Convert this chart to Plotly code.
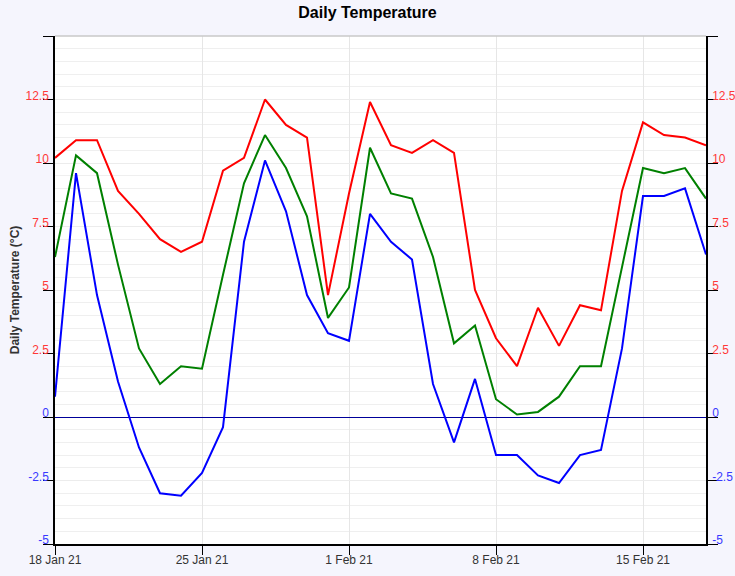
import pandas as pd
import plotly.graph_objects as go

# daily readings, 18 Jan 21 -> 18 Feb 21
dates = pd.date_range("2021-01-18", "2021-02-18", freq="D")

temp_max = [10.2, 10.9, 10.9, 8.9, 8.0, 7.0, 6.5, 6.9, 9.7, 10.2, 12.5,
            11.5, 11.0, 4.8, 8.8, 12.4, 10.7, 10.4, 10.9, 10.4, 5.0,
            3.1, 2.0, 4.3, 2.8, 4.4, 4.2, 8.9, 11.6, 11.1, 11.0, 10.7]
temp_mean = [6.3, 10.3, 9.6, 6.0, 2.7, 1.3, 2.0, 1.9, 5.6, 9.2, 11.1,
             9.8, 7.9, 3.9, 5.1, 10.6, 8.8, 8.6, 6.3, 2.9, 3.6,
             0.7, 0.1, 0.2, 0.8, 2.0, 2.0, 5.9, 9.8, 9.6, 9.8, 8.6]
temp_min = [0.8, 9.6, 4.8, 1.4, -1.2, -3.0, -3.1, -2.2, -0.4, 6.9, 10.1,
            8.1, 4.8, 3.3, 3.0, 8.0, 6.9, 6.2, 1.3, -1.0, 1.5,
            -1.5, -1.5, -2.3, -2.6, -1.5, -1.3, 2.7, 8.7, 8.7, 9.0, 6.4]

tick_vals = [-5, -2.5, 0, 2.5, 5, 7.5, 10, 12.5, 15]
tick_labels = ["-5", "-2.5", "0", "2.5", "5", "7.5", "10", "12.5", ""]


def colour_label(val, lab):
    if lab == "":
        return ""
    col = "#ff3838" if val > 0 else "#3838ff"
    return f"<span style='color:{col}'>{lab}</span>"


tick_text = [colour_label(v, l) for v, l in zip(tick_vals, tick_labels)]

fig = go.Figure()
fig.add_trace(go.Scatter(x=dates, y=temp_max, mode="lines", name="Max",
                         line=dict(color="red", width=2)))
fig.add_trace(go.Scatter(x=dates, y=temp_mean, mode="lines", name="Mean",
                         line=dict(color="green", width=2)))
fig.add_trace(go.Scatter(x=dates, y=temp_min, mode="lines", name="Min",
                         line=dict(color="blue", width=2)))
# dummy trace so the right hand axis gets drawn
fig.add_trace(go.Scatter(x=[dates[0]], y=[None], yaxis="y2", showlegend=False,
                         hoverinfo="skip"))

yax = dict(
    range=[-5, 15],
    tickvals=tick_vals,
    ticktext=tick_text,
    ticks="outside",
    ticklen=10,
    tickcolor="black",
    tickfont=dict(size=12),
    ticklabelshift=-4,
    ticklabelstandoff=-8,
    showline=True,
    linecolor="black",
    linewidth=1.5,
    showgrid=True,
    gridcolor="#ececec",
    minor=dict(dtick=0.5, tick0=0, showgrid=True, gridcolor="#efefef", ticks=""),
    zeroline=False,
    automargin=False,
)

fig.update_layout(
    width=735,
    height=576,
    showlegend=False,
    paper_bgcolor="#f5f5fd",
    plot_bgcolor="white",
    font=dict(family="Liberation Sans, Arial, sans-serif", color="#333333"),
    margin=dict(l=55, r=29, t=36, b=32),
    title=dict(text="<b>Daily Temperature</b>", x=0.5, xanchor="center",
               y=0.978, yanchor="middle", font=dict(size=16, color="black")),
    xaxis=dict(
        range=[dates[0], dates[-1]],
        tick0="2021-01-18",
        dtick=7 * 24 * 3600 * 1000,
        tickformat="%-d %b %y",
        ticks="outside",
        ticklen=9,
        tickcolor="black",
        tickfont=dict(size=12, color="#333333"),
        ticklabelstandoff=-5,
        showline=True,
        linecolor="black",
        linewidth=1.5,
        showgrid=True,
        gridcolor="#e6e6e6",
        automargin=False,
    ),
    yaxis=dict(yax, zeroline=True, zerolinecolor="#00009a", zerolinewidth=1.2,
               title=dict(text="<b>Daily Temperature (°C)</b>",
                          font=dict(size=12, color="#333333"), standoff=3)),
    yaxis2=dict(yax, overlaying="y", side="right", showgrid=False,
                minor=dict(showgrid=False)),
)

fig.add_shape(type="line", xref="paper", yref="paper", x0=0, x1=1, y0=1, y1=1,
              line=dict(color="#c8c8c8", width=1.5))

# browser's default body margin would shift the figure
fig.write_html("out.html", config={"displayModeBar": False},
               post_script="document.body.style.margin='0';")
